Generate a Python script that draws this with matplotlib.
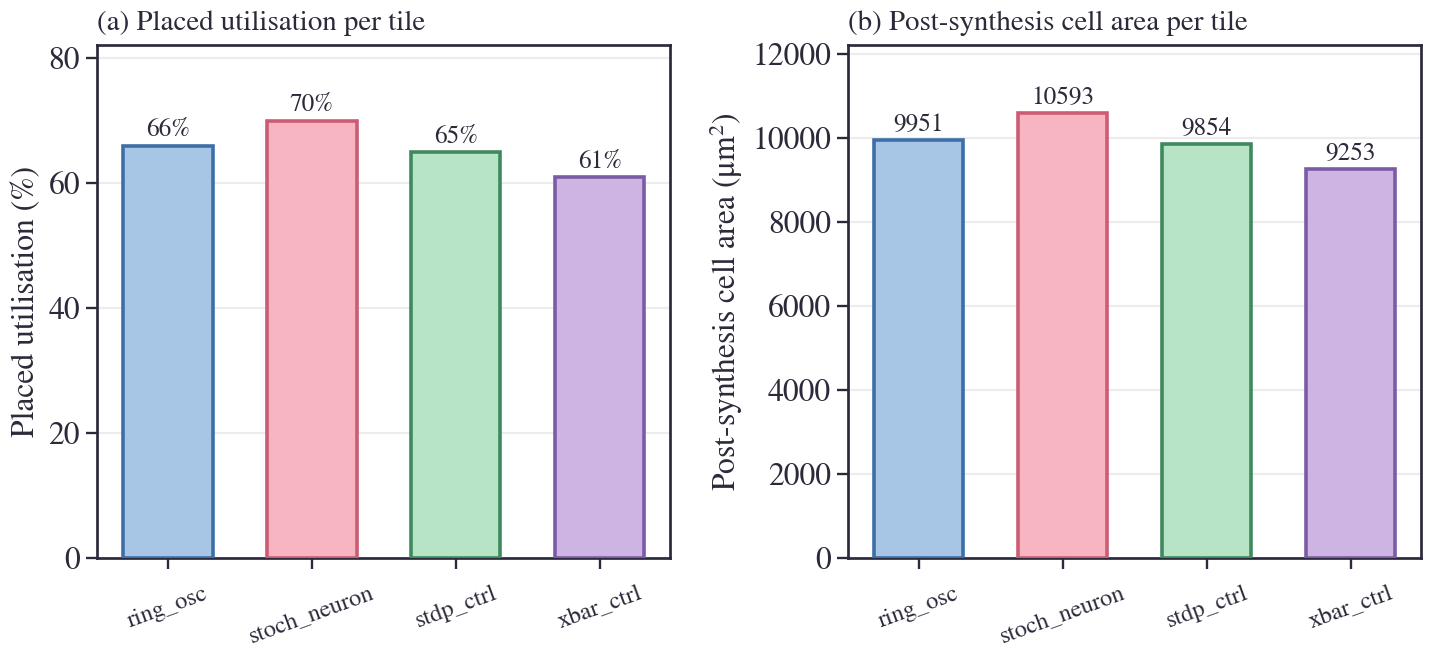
import matplotlib
matplotlib.use("Agg")
import matplotlib.pyplot as plt

tiles = ["ring_osc", "stoch_neuron", "stdp_ctrl", "xbar_ctrl"]
util_pct = [66, 70, 65, 61]
cell_area = [9951, 10593, 9854, 9253]

fills = ["#a7c6e5", "#f7b5c2", "#b7e3c6", "#ceb4e2"]
edges = ["#3d6ea8", "#cd5c73", "#3e8a5c", "#7c5ba6"]
ink = "#2a2a3a"

plt.rcParams["font.family"] = ["STIXGeneral", "DejaVu Serif"]
plt.rcParams["mathtext.fontset"] = "stix"
plt.rcParams["text.color"] = ink
plt.rcParams["axes.labelcolor"] = ink
plt.rcParams["xtick.color"] = ink
plt.rcParams["ytick.color"] = ink

fig, (ax1, ax2) = plt.subplots(1, 2, figsize=(11, 651 / 130), dpi=130)
fig.subplots_adjust(left=0.068, right=0.994, top=0.931, bottom=0.143, wspace=0.31)

x = range(len(tiles))


def draw(ax, vals, labels, ylim, yticks, ylabel, title):
    ax.bar(x, vals, width=0.62, color=fills, edgecolor=edges, linewidth=2, zorder=3)
    for i, v in enumerate(vals):
        ax.text(i, v + ylim * 0.006, labels[i], ha="center", va="bottom", fontsize=14)
    ax.set_ylim(0, ylim)
    ax.set_yticks(yticks)
    ax.yaxis.grid(True, color="#ececec", linewidth=1.2, zorder=0)
    ax.set_xticks(list(x))
    ax.set_xticklabels(tiles, rotation=20, fontsize=13.5)
    ax.tick_params(axis="y", labelsize=17.5, length=6, width=1.3)
    ax.tick_params(axis="x", length=6, width=1.3, pad=8)
    ax.set_ylabel(ylabel, fontsize=17.5)
    ax.set_title(title, loc="left", fontsize=16, pad=8)
    for s in ax.spines.values():
        s.set_color(ink)
        s.set_linewidth(1.5)


draw(ax1, util_pct, [f"{v}%" for v in util_pct], 82.1, [0, 20, 40, 60, 80],
     "Placed utilisation (%)", "(a) Placed utilisation per tile")
draw(ax2, cell_area, [str(v) for v in cell_area], 12210, range(0, 12001, 2000),
     r"Post-synthesis cell area ($\mathrm{\mu m}^2$)", "(b) Post-synthesis cell area per tile")

fig.savefig("out.png", dpi=130)
